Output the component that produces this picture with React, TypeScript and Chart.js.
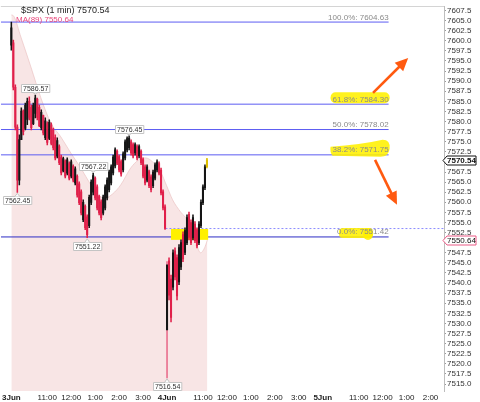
import { useEffect, useRef } from 'react';
import { Chart, registerables } from 'chart.js';

Chart.register(...registerables);

const FONT = "'Liberation Sans', Arial, sans-serif";

// ---------- time axis: trading minutes since 3 Jun 09:30 (390 per session) ----------
const sessionStart = [0, 390, 780];
const sessionNames = ['3Jun', '4Jun', '5Jun'];
const hourNames = ['11:00', '12:00', '1:00', '2:00', '3:00'];
const hourMinutes = [90, 150, 210, 270, 330];
const barStep = 5;
const xMin = -26.25;
const xMax = 1083.75;

// ---------- price axis ----------
const yMin = 7513.27;
const yMax = 7608.61;
const yTickFirst = 7515;
const yTickLast = 7607.5;
const yTickStep = 2.5;

// ---------- $SPX bars, 3 Jun ----------
const open3Jun = [7598.9, 7599.5, 7588.5, 7578.6, 7565.5, 7575.5, 7582.6, 7578.3, 7580.5, 7585.0,
  7583.5, 7579.5, 7582.0, 7585.5, 7583.5, 7578.5, 7581.5, 7576.0, 7579.5, 7575.8,
  7579.2, 7577.8, 7576.0, 7571.4, 7573.8, 7571.2, 7567.8, 7570.2, 7567.2, 7569.6,
  7566.5, 7568.9, 7564.8, 7566.4, 7564.6, 7562.6, 7555.7, 7559.0, 7556.4, 7554.2,
  7560.0, 7562.5, 7566.0, 7563.8, 7561.4, 7560.1, 7557.3, 7558.6, 7561.1, 7563.1,
  7564.8, 7567.3, 7569.0, 7572.6, 7571.3, 7570.1, 7568.0, 7571.0, 7573.0, 7573.5,
  7575.0, 7574.3, 7572.2, 7573.8, 7571.5, 7572.6, 7570.6, 7568.8, 7565.5, 7567.6,
  7566.3, 7564.1, 7566.0, 7568.0, 7569.6, 7568.0, 7562.6, 7558.9];
const high3Jun = [7604.63, 7600.2, 7589.1, 7579.2, 7576.7, 7583.4, 7582.9, 7584.6, 7585.8, 7586.1,
  7584.1, 7584.6, 7586.57, 7585.8, 7584.1, 7582.9, 7581.6, 7580.9, 7579.9, 7580.4,
  7579.7, 7578.4, 7576.7, 7575.95, 7574.2, 7571.7, 7571.2, 7570.5, 7571.0, 7570.0,
  7570.5, 7569.3, 7568.8, 7566.8, 7565.05, 7563.1, 7560.6, 7559.4, 7556.9, 7561.8,
  7565.55, 7567.22, 7566.3, 7564.3, 7561.8, 7560.6, 7561.8, 7564.3, 7566.05, 7568.0,
  7569.3, 7571.7, 7573.5, 7573.0, 7571.7, 7570.5, 7572.5, 7575.45, 7576.2, 7576.45,
  7575.45, 7574.7, 7574.7, 7574.2, 7574.2, 7573.0, 7571.0, 7569.3, 7569.3, 7568.0,
  7566.8, 7568.0, 7569.8, 7570.5, 7570.0, 7568.5, 7563.1, 7559.4];
const low3Jun = [7597.7, 7587.8, 7577.9, 7562.45, 7564.3, 7575.5, 7576.7, 7577.9, 7579.2, 7580.4,
  7577.9, 7579.2, 7580.9, 7580.4, 7578.7, 7577.9, 7576.7, 7575.5, 7574.2, 7575.5,
  7574.2, 7573.0, 7570.5, 7571.0, 7569.3, 7566.8, 7567.5, 7566.05, 7566.8, 7565.55,
  7566.05, 7565.05, 7564.3, 7561.3, 7559.4, 7556.9, 7555.2, 7553.2, 7551.22, 7553.7,
  7559.4, 7561.8, 7560.6, 7558.1, 7556.9, 7555.65, 7556.9, 7558.1, 7560.6, 7562.6,
  7564.3, 7566.8, 7568.5, 7569.3, 7567.5, 7566.5, 7567.5, 7570.5, 7572.5, 7573.0,
  7571.7, 7571.0, 7571.7, 7570.5, 7571.0, 7569.3, 7566.05, 7564.3, 7565.05, 7563.6,
  7562.6, 7563.6, 7565.55, 7567.5, 7566.8, 7561.8, 7558.1, 7553.3];
const close3Jun = [7603.2, 7588.5, 7578.6, 7565.5, 7575.5, 7582.6, 7577.5, 7584.0, 7585.0, 7581.0,
  7578.5, 7584.0, 7585.8, 7581.0, 7579.0, 7582.3, 7577.2, 7580.2, 7574.8, 7579.8,
  7574.6, 7573.5, 7571.0, 7575.3, 7569.8, 7567.3, 7570.8, 7566.5, 7570.5, 7566.0,
  7570.0, 7565.5, 7568.3, 7561.8, 7559.9, 7557.4, 7560.0, 7553.7, 7552.0, 7561.2,
  7565.0, 7566.6, 7561.1, 7558.6, 7557.4, 7556.2, 7561.3, 7563.8, 7565.5, 7567.5,
  7568.8, 7571.2, 7573.0, 7569.7, 7568.0, 7567.0, 7572.0, 7575.0, 7575.8, 7575.9,
  7572.2, 7571.5, 7574.3, 7571.0, 7573.8, 7569.8, 7566.5, 7564.8, 7568.8, 7564.1,
  7563.1, 7567.5, 7569.3, 7570.0, 7567.2, 7562.3, 7558.6, 7553.5];

// ---------- $SPX bars, 4 Jun ----------
const open4Jun = [7528.4, 7545.5, 7541.0, 7539.0, 7548.0, 7546.3, 7540.3, 7544.0, 7552.0, 7547.6,
  7550.0, 7557.0, 7555.0, 7551.2, 7554.6, 7553.2, 7550.0, 7554.2, 7559.9, 7563.6, 7568.8];
const high4Jun = [7545.3, 7546.25, 7542.0, 7548.2, 7548.7, 7547.0, 7549.5, 7550.7, 7552.7, 7553.7,
  7556.9, 7557.6, 7555.65, 7556.9, 7555.2, 7553.7, 7555.2, 7560.6, 7564.3, 7569.3, 7570.9];
const low4Jun = [7516.54, 7535.85, 7530.4, 7538.3, 7540.8, 7535.85, 7539.6, 7543.3, 7545.3, 7547.0,
  7549.5, 7550.7, 7549.5, 7550.7, 7550.0, 7548.7, 7549.5, 7553.7, 7559.4, 7563.1, 7568.5];
const close4Jun = [7544.5, 7537.0, 7531.5, 7547.5, 7541.5, 7536.8, 7548.8, 7550.0, 7546.0, 7553.0,
  7556.2, 7551.3, 7550.0, 7556.2, 7550.5, 7549.2, 7554.6, 7560.0, 7563.8, 7568.8, 7570.54];

// ---------- MA(89) ----------
const maMinutes = [0, 6, 24, 49, 74, 99, 124, 149, 174, 199, 216, 236, 254, 274, 299, 319, 336, 354,
  374, 389, 404, 424, 444, 459, 474, 484, 491];
const maValues = [7606.4, 7606.1, 7600.9, 7593.5, 7585.85, 7579.65, 7576.2, 7572.2, 7568.5, 7564.3,
  7561.85, 7561.1, 7562.1, 7564.3, 7568.5, 7570.5, 7571.0, 7570.0, 7567.5, 7564.1, 7560.6, 7557.6,
  7555.2, 7551.2, 7547.5, 7548.7, 7550.64];

// ---------- Fibonacci retracement ----------
const fibPercents = ['100.0', '61.8', '50.0', '38.2', '0.0'];
const fibLevels = [7604.63, 7584.30, 7578.02, 7571.75, 7551.42];
const fibEndMinute = 945;

type Candle = { x: number; o: number; h: number; l: number; c: number; last: boolean };

function buildCandles(): Candle[] {
  const out: Candle[] = [];
  const sessions = [
    { start: sessionStart[0], o: open3Jun, h: high3Jun, l: low3Jun, c: close3Jun },
    { start: sessionStart[1], o: open4Jun, h: high4Jun, l: low4Jun, c: close4Jun },
  ];
  sessions.forEach((s, si) => {
    s.o.forEach((_, i) => {
      out.push({
        x: s.start + i * barStep,
        o: s.o[i], h: s.h[i], l: s.l[i], c: s.c[i],
        last: si === sessions.length - 1 && i === s.o.length - 1,
      });
    });
  });
  return out;
}

const RED = '#e0204a';
const BLACK = '#151515';
const GOLD = '#e0c000';
const FIB_BLUE = 'rgb(92,92,242)';
const FIB_NAVY = 'rgb(44,44,196)';

export default function App() {
  const canvasRef = useRef<HTMLCanvasElement | null>(null);

  useEffect(() => {
    const canvas = canvasRef.current;
    if (!canvas) return;
    const candles = buildCandles();
    const colors = candles.map((c) => (c.last ? GOLD : c.c >= c.o ? BLACK : RED));
    const wickColors = candles.map((c, i) => (i === open3Jun.length ? '#e86a8a' : c.last ? GOLD : c.c >= c.o ? BLACK : RED));
    const lastPrice = close4Jun[close4Jun.length - 1];
    const lastMA = maValues[maValues.length - 1];
    const prevClose = close3Jun[close3Jun.length - 1];

    const xTickValues: number[] = [];
    const xTickLabels: string[] = [];
    const xTickBold: boolean[] = [];
    sessionStart.forEach((s, d) => {
      xTickValues.push(s); xTickLabels.push(sessionNames[d]); xTickBold.push(true);
      hourMinutes.forEach((m, k) => {
        if (s + m <= xMax) { xTickValues.push(s + m); xTickLabels.push(hourNames[k]); xTickBold.push(false); }
      });
    });
    const yTickValues: number[] = [];
    for (let v = yTickFirst; v <= yTickLast + 0.001; v += yTickStep) yTickValues.push(Math.round(v * 10) / 10);

    const priceTags = [
      { x: sessionStart[0] + 12 * barStep, v: high3Jun[12], side: 'above' },
      { x: sessionStart[0] + 3 * barStep, v: low3Jun[3], side: 'below' },
      { x: sessionStart[0] + 38 * barStep, v: low3Jun[38], side: 'below' },
      { x: sessionStart[0] + 41 * barStep, v: high3Jun[41], side: 'above' },
      { x: sessionStart[0] + 59 * barStep, v: high3Jun[59], side: 'above' },
      { x: sessionStart[1] + 0 * barStep, v: low4Jun[0], side: 'below' },
    ];

    const fibDatasets = fibLevels.map((lv, i) => ({
      type: 'line' as const,
      label: 'fib' + i,
      data: [{ x: xMin, y: lv }, { x: fibEndMinute, y: lv }],
      borderColor: i === fibLevels.length - 1 ? FIB_NAVY : FIB_BLUE,
      backgroundColor: i === fibLevels.length - 1 ? FIB_NAVY : FIB_BLUE,
      borderWidth: 1,
      pointRadius: 0,
      fill: false,
      order: 5,
    }));

    const overlay = {
      id: 'overlay',
      beforeDatasetDraw(chart: any, args: any) {
        if (chart.data.datasets[args.index].label !== 'wicks') return;
        const { ctx, scales } = chart;
        const x0 = scales.x.getPixelForValue(400);
        const x1 = scales.x.getPixelForValue(493);
        const y0 = scales.y.getPixelForValue(7553.4);
        const y1 = scales.y.getPixelForValue(7550.7);
        ctx.save();
        ctx.fillStyle = '#fff000';
        ctx.fillRect(x0, y0, x1 - x0, y1 - y0);
        ctx.restore();
      },
      afterDatasetsDraw(chart: any) {
        const { ctx, scales, chartArea } = chart;
        const xs = scales.x;
        const ys = scales.y;
        ctx.save();
        // frame top line
        ctx.strokeStyle = '#d4d4d4';
        ctx.lineWidth = 1;
        ctx.beginPath();
        ctx.moveTo(chartArea.left, chartArea.top + 0.5);
        ctx.lineTo(chartArea.right, chartArea.top + 0.5);
        ctx.stroke();

        // fib labels with highlighter marks
        ctx.font = `8px ${FONT}`;
        const fx = xs.getPixelForValue(fibEndMinute);
        fibLevels.forEach((lv, i) => {
          const text = `${fibPercents[i]}%: ${lv.toFixed(2)}`;
          const w = ctx.measureText(text).width;
          const ly = ys.getPixelForValue(lv);
          ctx.fillStyle = 'rgba(255,240,0,0.88)';
          if (fibPercents[i] === '61.8') {
            ctx.beginPath();
            ctx.roundRect(fx - w - 2, ly - 12, w + 3, 11, 5);
            ctx.fill();
          } else if (fibPercents[i] === '38.2') {
            ctx.beginPath();
            ctx.moveTo(fx - w - 2, ly - 8);
            ctx.quadraticCurveTo(fx - w / 2, ly - 10, fx - 6, ly - 15);
            ctx.quadraticCurveTo(fx + 2, ly - 15, fx + 1, ly - 6);
            ctx.quadraticCurveTo(fx, ly + 2, fx - 8, ly + 2);
            ctx.lineTo(fx - w, ly + 1);
            ctx.quadraticCurveTo(fx - w - 3, ly - 3, fx - w - 2, ly - 8);
            ctx.fill();
          } else if (fibPercents[i] === '0.0') {
            ctx.beginPath();
            ctx.roundRect(fx - w + 2, ly - 9, 34, 10, 4);
            ctx.fill();
            ctx.beginPath();
            ctx.ellipse(fx - w + 31, ly - 3, 5, 6, 0, 0, Math.PI * 2);
            ctx.fill();
          }
          ctx.fillStyle = '#8a8a8a';
          ctx.textAlign = 'right';
          ctx.textBaseline = 'alphabetic';
          ctx.fillText(text, fx, ly - 2.5);
        });

        // price tags at extremes
        ctx.font = `7px ${FONT}`;
        priceTags.forEach((t) => {
          const px = xs.getPixelForValue(t.x);
          const py = ys.getPixelForValue(t.v);
          const text = t.v.toFixed(2);
          const w = ctx.measureText(text).width + 3;
          const h = 8;
          const bx = Math.round(px - w / 2) + 0.5;
          const by = t.side === 'above' ? Math.round(py - 3 - h) + 0.5 : Math.round(py + 4) + 0.5;
          ctx.fillStyle = '#ffffff';
          ctx.strokeStyle = '#c4c4c4';
          ctx.lineWidth = 1;
          ctx.beginPath();
          ctx.rect(bx, by, w, h);
          ctx.fill();
          ctx.stroke();
          ctx.beginPath();
          if (t.side === 'above') {
            ctx.moveTo(px - 2.5, by + h);
            ctx.lineTo(px, py - 1);
            ctx.lineTo(px + 2.5, by + h);
          } else {
            ctx.moveTo(px - 2.5, by);
            ctx.lineTo(px, py + 1);
            ctx.lineTo(px + 2.5, by);
          }
          ctx.fill();
          ctx.stroke();
          ctx.fillStyle = '#333';
          ctx.textAlign = 'center';
          ctx.textBaseline = 'middle';
          ctx.fillText(text, bx + w / 2, by + h / 2 + 0.5);
        });

        // orange arrows
        const arrows = [
          { from: { x: 906, y: 7587.1 }, to: { x: 994, y: 7595.75 } },
          { from: { x: 911, y: 7570.5 }, to: { x: 966, y: 7559.4 } },
        ];
        arrows.forEach((a) => {
          const x0 = xs.getPixelForValue(a.from.x);
          const y0 = ys.getPixelForValue(a.from.y);
          const x1 = xs.getPixelForValue(a.to.x);
          const y1 = ys.getPixelForValue(a.to.y);
          const ang = Math.atan2(y1 - y0, x1 - x0);
          const hl = 13;
          const hw = 6;
          ctx.strokeStyle = '#ff5a10';
          ctx.fillStyle = '#ff5a10';
          ctx.lineWidth = 2.6;
          ctx.beginPath();
          ctx.moveTo(x0, y0);
          ctx.lineTo(x1 - Math.cos(ang) * hl * 0.8, y1 - Math.sin(ang) * hl * 0.8);
          ctx.stroke();
          const bxp = x1 - Math.cos(ang) * hl;
          const byp = y1 - Math.sin(ang) * hl;
          ctx.beginPath();
          ctx.moveTo(x1, y1);
          ctx.lineTo(bxp + Math.sin(ang) * hw, byp - Math.cos(ang) * hw);
          ctx.lineTo(bxp - Math.sin(ang) * hw, byp + Math.cos(ang) * hw);
          ctx.closePath();
          ctx.fill();
        });

        // header
        ctx.textAlign = 'left';
        ctx.textBaseline = 'middle';
        ctx.font = `9px ${FONT}`;
        ctx.fillStyle = '#222';
        ctx.fillText(`$SPX (1 min) ${lastPrice.toFixed(2)}`, 21, chartArea.top + 5);
        ctx.font = `8px ${FONT}`;
        ctx.fillStyle = '#e8457a';
        ctx.fillText(`MA(89) ${lastMA.toFixed(2)}`, 16, chartArea.top + 13.5);
        ctx.restore();
      },
      afterDraw(chart: any) {
        const { ctx, scales, chartArea } = chart;
        const ys = scales.y;
        const left = chartArea.right;
        const boxes = [
          { v: lastPrice, border: '#111', bold: true },
          { v: lastMA, border: '#ea5b86', bold: false },
        ];
        ctx.save();
        boxes.forEach((b) => {
          const cy = Math.round(ys.getPixelForValue(b.v)) + 0.5;
          const h = 4.5;
          ctx.beginPath();
          ctx.moveTo(left - 1, cy);
          ctx.lineTo(left + 3, cy - h);
          ctx.lineTo(left + 32, cy - h);
          ctx.lineTo(left + 32, cy + h);
          ctx.lineTo(left + 3, cy + h);
          ctx.closePath();
          ctx.fillStyle = '#fff';
          ctx.fill();
          ctx.strokeStyle = b.border;
          ctx.lineWidth = 1;
          ctx.stroke();
          ctx.fillStyle = '#111';
          ctx.font = `${b.bold ? 'bold ' : ''}8px ${FONT}`;
          ctx.textAlign = 'left';
          ctx.textBaseline = 'middle';
          ctx.fillText(b.v.toFixed(2), left + 3, cy + 0.5);
        });
        ctx.restore();
      },
    };

    const chart = new Chart(canvas, {
      type: 'line',
      data: {
        datasets: [
          {
            type: 'line',
            label: 'ma',
            data: maMinutes.map((m, i) => ({ x: m, y: maValues[i] })),
            borderColor: 'rgba(236,196,196,0.9)',
            borderWidth: 0.8,
            backgroundColor: 'rgb(248,229,229)',
            fill: 'start',
            pointRadius: 0,
            cubicInterpolationMode: 'monotone',
            order: 10,
          },
          ...fibDatasets,
          {
            type: 'line',
            label: 'prevClose',
            data: [{ x: 386, y: prevClose }, { x: xMax, y: prevClose }],
            borderColor: '#8c8cff',
            backgroundColor: '#8c8cff',
            borderWidth: 1,
            borderDash: [2, 2],
            pointRadius: 0,
            fill: false,
            order: 4,
          },
          {
            type: 'bar',
            label: 'wicks',
            data: candles.map((c) => ({ x: c.x, y: [c.l, c.h] })) as any,
            backgroundColor: wickColors,
            barThickness: 0.9,
            grouped: false,
            order: 2,
          },
          {
            type: 'bar',
            label: 'bodies',
            data: candles.map((c) => ({ x: c.x, y: [Math.min(c.o, c.c), Math.max(c.o, c.c)] })) as any,
            backgroundColor: colors,
            barThickness: 1.4,
            grouped: false,
            order: 1,
          },
        ] as any,
      },
      options: {
        animation: false,
        responsive: false,
        devicePixelRatio: 1,
        layout: { padding: { top: 6, left: 0, right: 0, bottom: 0 } },
        plugins: { legend: { display: false }, tooltip: { enabled: false }, title: { display: false } },
        scales: {
          x: {
            type: 'linear',
            min: xMin,
            max: xMax,
            offset: false,
            grid: { display: false, drawTicks: false, offset: false },
            border: { display: false },
            afterBuildTicks: (s: any) => { s.ticks = xTickValues.map((v) => ({ value: v })); },
            afterFit: (s: any) => { s.height = 11; },
            ticks: {
              autoSkip: false,
              maxRotation: 0,
              minRotation: 0,
              padding: 2,
              color: '#222',
              font: (c: any) => ({ family: FONT, size: 8, weight: xTickBold[c.index] ? 'bold' : 'normal' }),
              callback: (_v: any, i: number) => xTickLabels[i],
            },
          },
          y: {
            type: 'linear',
            position: 'right',
            min: yMin,
            max: yMax,
            grid: { drawOnChartArea: false, drawTicks: true, tickLength: 2, color: '#9a9a9a' },
            border: { display: true, color: '#bdbdbd' },
            afterBuildTicks: (s: any) => { s.ticks = yTickValues.map((v) => ({ value: v })); },
            afterFit: (s: any) => { s.width = 36; },
            ticks: {
              autoSkip: false,
              padding: 1,
              color: '#333',
              font: { family: FONT, size: 8 },
              callback: (v: any) => {
                const n = Number(v);
                if (Math.abs(n - lastPrice) < 1.3 || Math.abs(n - lastMA) < 1.3) return '';
                return n.toFixed(1);
              },
            },
          },
        },
      } as any,
      plugins: [overlay],
    });
    return () => chart.destroy();
  }, []);

  return (
    <div style={{ position: 'fixed', left: 0, top: 0, width: 480, height: 402, background: '#fff' }}>
      <canvas ref={canvasRef} width={480} height={402} style={{ width: 480, height: 402, display: 'block' }} />
    </div>
  );
}
